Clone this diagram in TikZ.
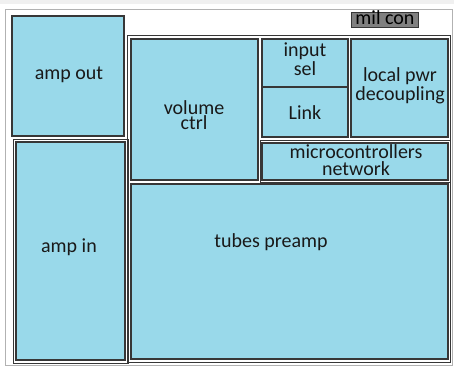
\documentclass[tikz,border=0pt]{standalone}
\usepackage{fontspec}
\setmainfont{Carlito}

\definecolor{boxblue}{RGB}{153,217,234}
\definecolor{edgegray}{RGB}{55,55,55}
\definecolor{milgray}{RGB}{128,128,128}

\begin{document}
\begin{tikzpicture}[x=1pt, y=-1pt,
    blk/.style={draw=edgegray, line width=1.5pt, fill=boxblue},
    frm/.style={draw=gray!60, line width=0.8pt},
    grp/.style={draw=edgegray, line width=0.8pt},
    txt/.style={font=\fontsize{20}{17}\selectfont, text=black!90,
      align=center, inner sep=0pt, anchor=base}]
  % -- page
  \useasboundingbox (0,0) rectangle (454,367);
  \fill[white] (0,0) rectangle (454,367);
  \fill[gray!12] (0,0) rectangle (454,4);

  % -- frames
  \draw[frm] (5,9) rectangle (452,365);
  \draw[grp] (127,35) rectangle (450,362);
  \draw[grp] (13,139) rectangle (128,363);
  \draw[grp] (260,140) rectangle (450,182);

  % -- boxes
  \foreach\xa/\ya/\xb/\yb in {12/16/124/136, 16/142/125/360,
      131/39/258/180, 262/39/348/87, 262/87/348/137,
      351/39/448/137, 262/143/448/180, 131/184/448/359} {
    \draw[blk] (\xa, \ya) rectangle (\xb, \yb);
  }
  \draw[grp, fill=milgray] (351,12) rectangle (418,27);

  % -- labels (base = last line)
  \node[txt] (ampout) at (69,79) {amp out};
  \node[txt] (ampin) at (69,252) {amp in};
  \node[txt, font=\fontsize{20}{15}\selectfont] (volume) at (194,129) {volume\\ctrl};
  \node[txt] (inputsel) at (305,75) {input\\sel};
  \node[txt] (link) at (305,119) {Link};
  \node[txt] (localpwr) at (400,100) {local pwr\\decoupling};
  \node[txt] (micro) at (356,175) {microcontrollers\\network};
  \node[txt] (tubes) at (271,247) {tubes preamp};
  \node[txt, text=black] (milcon) at (385,24) {mil con};
\end{tikzpicture}
\end{document}
